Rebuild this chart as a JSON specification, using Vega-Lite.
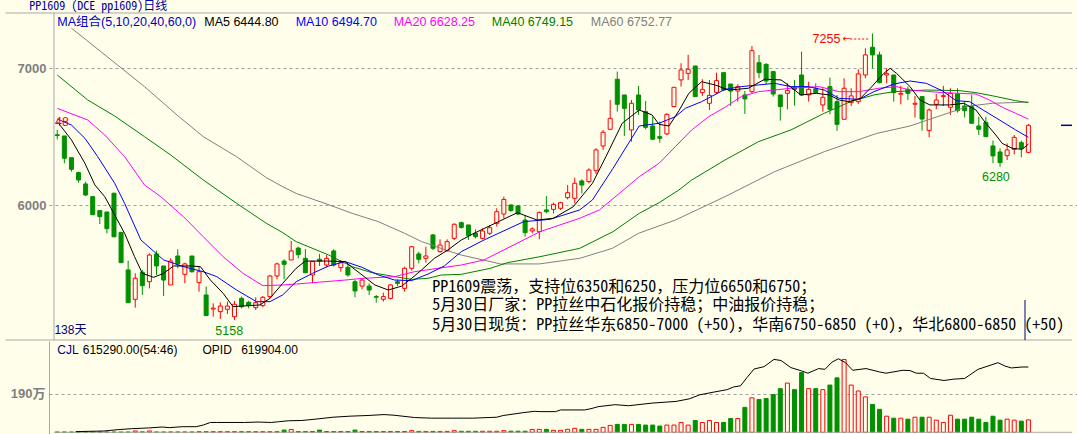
{
"$schema":"https://vega.github.io/schema/vega-lite/v6.json",
"background":"#fffeeb",
"padding":0,
"spacing":0,
"config":{"view":{"stroke":null},"font":"Liberation Sans"},
"datasets":{
"candles":[
{"k":0,"o":6514,"h":6549,"l":6480,"c":6508,"v":1},
{"k":1,"o":6505,"h":6505,"l":6305,"c":6342,"v":1},
{"k":2,"o":6346,"h":6346,"l":6244,"c":6261,"v":1},
{"k":3,"o":6237,"h":6244,"l":6164,"c":6183,"v":1},
{"k":4,"o":6154,"h":6171,"l":6066,"c":6073,"v":1},
{"k":5,"o":6061,"h":6066,"l":5929,"c":5929,"v":1},
{"k":6,"o":5959,"h":5959,"l":5861,"c":5915,"v":1},
{"k":7,"o":5949,"h":5949,"l":5793,"c":5827,"v":1},
{"k":8,"o":6086,"h":6090,"l":5763,"c":5768,"v":1},
{"k":9,"o":5800,"h":5800,"l":5578,"c":5578,"v":1},
{"k":10,"o":5525,"h":5593,"l":5286,"c":5286,"v":1},
{"k":11,"o":5310,"h":5500,"l":5249,"c":5464,"v":6.5},
{"k":12,"o":5508,"h":5525,"l":5342,"c":5410,"v":2},
{"k":13,"o":5439,"h":5646,"l":5390,"c":5634,"v":6.5},
{"k":14,"o":5642,"h":5666,"l":5488,"c":5554,"v":1.5},
{"k":15,"o":5554,"h":5554,"l":5334,"c":5451,"v":1.5},
{"k":16,"o":5415,"h":5610,"l":5415,"c":5590,"v":1.5},
{"k":17,"o":5627,"h":5676,"l":5537,"c":5569,"v":1.5},
{"k":18,"o":5493,"h":5578,"l":5427,"c":5569,"v":1.5},
{"k":19,"o":5627,"h":5627,"l":5505,"c":5512,"v":1.5},
{"k":20,"o":5432,"h":5549,"l":5366,"c":5512,"v":3},
{"k":21,"o":5342,"h":5403,"l":5191,"c":5191,"v":3},
{"k":22,"o":5239,"h":5281,"l":5183,"c":5246,"v":3},
{"k":23,"o":5220,"h":5288,"l":5166,"c":5261,"v":3},
{"k":24,"o":5237,"h":5293,"l":5203,"c":5261,"v":3},
{"k":25,"o":5183,"h":5298,"l":5158,"c":5274,"v":3},
{"k":26,"o":5317,"h":5330,"l":5244,"c":5256,"v":3},
{"k":27,"o":5288,"h":5300,"l":5244,"c":5264,"v":3},
{"k":28,"o":5249,"h":5325,"l":5232,"c":5286,"v":3},
{"k":29,"o":5264,"h":5334,"l":5252,"c":5325,"v":3},
{"k":30,"o":5330,"h":5488,"l":5317,"c":5481,"v":3},
{"k":31,"o":5481,"h":5578,"l":5456,"c":5569,"v":3},
{"k":32,"o":5590,"h":5603,"l":5456,"c":5566,"v":11},
{"k":33,"o":5598,"h":5737,"l":5598,"c":5664,"v":14},
{"k":34,"o":5685,"h":5695,"l":5610,"c":5637,"v":4},
{"k":35,"o":5610,"h":5678,"l":5500,"c":5505,"v":4},
{"k":36,"o":5488,"h":5586,"l":5427,"c":5586,"v":4},
{"k":37,"o":5603,"h":5642,"l":5554,"c":5590,"v":11},
{"k":38,"o":5561,"h":5634,"l":5544,"c":5610,"v":4},
{"k":39,"o":5664,"h":5676,"l":5549,"c":5561,"v":4},
{"k":40,"o":5542,"h":5598,"l":5512,"c":5578,"v":4},
{"k":41,"o":5544,"h":5561,"l":5476,"c":5488,"v":4},
{"k":42,"o":5439,"h":5451,"l":5325,"c":5371,"v":11},
{"k":43,"o":5407,"h":5464,"l":5383,"c":5451,"v":4},
{"k":44,"o":5407,"h":5427,"l":5342,"c":5378,"v":4},
{"k":45,"o":5330,"h":5342,"l":5286,"c":5325,"v":4},
{"k":46,"o":5310,"h":5359,"l":5293,"c":5330,"v":4},
{"k":47,"o":5317,"h":5422,"l":5310,"c":5415,"v":4},
{"k":48,"o":5439,"h":5456,"l":5407,"c":5427,"v":4},
{"k":49,"o":5390,"h":5549,"l":5366,"c":5537,"v":4},
{"k":50,"o":5537,"h":5700,"l":5520,"c":5695,"v":8},
{"k":51,"o":5642,"h":5659,"l":5573,"c":5603,"v":4.5},
{"k":52,"o":5610,"h":5695,"l":5578,"c":5627,"v":4.5},
{"k":53,"o":5781,"h":5788,"l":5671,"c":5683,"v":4.5},
{"k":54,"o":5659,"h":5749,"l":5651,"c":5707,"v":4.5},
{"k":55,"o":5666,"h":5749,"l":5659,"c":5732,"v":4.5},
{"k":56,"o":5756,"h":5866,"l":5744,"c":5859,"v":8},
{"k":57,"o":5871,"h":5878,"l":5827,"c":5836,"v":5},
{"k":58,"o":5854,"h":5854,"l":5744,"c":5776,"v":5},
{"k":59,"o":5793,"h":5822,"l":5756,"c":5768,"v":5},
{"k":60,"o":5756,"h":5829,"l":5749,"c":5810,"v":5},
{"k":61,"o":5793,"h":5854,"l":5780,"c":5834,"v":5},
{"k":62,"o":5866,"h":5976,"l":5842,"c":5951,"v":5},
{"k":63,"o":5934,"h":6061,"l":5903,"c":6041,"v":8},
{"k":64,"o":6000,"h":6005,"l":5951,"c":5959,"v":5.5},
{"k":65,"o":5993,"h":6000,"l":5927,"c":5934,"v":5.5},
{"k":66,"o":5890,"h":5927,"l":5768,"c":5798,"v":5.5},
{"k":67,"o":5810,"h":5837,"l":5793,"c":5825,"v":14},
{"k":68,"o":5805,"h":5951,"l":5749,"c":5946,"v":14.6},
{"k":69,"o":5964,"h":6066,"l":5939,"c":5951,"v":14.6},
{"k":70,"o":5968,"h":6017,"l":5939,"c":6005,"v":9.7},
{"k":71,"o":5976,"h":6024,"l":5964,"c":6017,"v":9.7},
{"k":72,"o":6054,"h":6146,"l":6041,"c":6090,"v":14.6},
{"k":73,"o":6049,"h":6200,"l":6012,"c":6159,"v":19.5},
{"k":74,"o":6176,"h":6188,"l":6085,"c":6146,"v":14.6},
{"k":75,"o":6171,"h":6268,"l":6159,"c":6256,"v":14.6},
{"k":76,"o":6251,"h":6415,"l":6227,"c":6403,"v":14.6},
{"k":77,"o":6432,"h":6549,"l":6403,"c":6532,"v":24.4},
{"k":78,"o":6554,"h":6768,"l":6549,"c":6634,"v":34.1},
{"k":79,"o":6920,"h":6976,"l":6683,"c":6737,"v":39},
{"k":80,"o":6805,"h":6805,"l":6505,"c":6707,"v":39},
{"k":81,"o":6549,"h":6768,"l":6463,"c":6744,"v":39},
{"k":82,"o":6805,"h":6871,"l":6659,"c":6695,"v":39},
{"k":83,"o":6683,"h":6761,"l":6554,"c":6568,"v":35.7},
{"k":84,"o":6578,"h":6646,"l":6476,"c":6481,"v":35.7},
{"k":85,"o":6500,"h":6610,"l":6456,"c":6488,"v":30.9},
{"k":86,"o":6520,"h":6671,"l":6512,"c":6663,"v":35.7},
{"k":87,"o":6720,"h":6861,"l":6715,"c":6861,"v":35.7},
{"k":88,"o":6915,"h":7037,"l":6866,"c":6988,"v":48.7},
{"k":89,"o":6963,"h":7098,"l":6915,"c":6993,"v":35.7},
{"k":90,"o":7017,"h":7017,"l":6793,"c":6793,"v":58.5},
{"k":91,"o":6822,"h":6920,"l":6798,"c":6846,"v":48.7},
{"k":92,"o":6744,"h":6915,"l":6695,"c":6802,"v":58.5},
{"k":93,"o":6824,"h":6968,"l":6812,"c":6910,"v":48.7},
{"k":94,"o":6968,"h":6968,"l":6834,"c":6841,"v":48.7},
{"k":95,"o":6885,"h":6885,"l":6724,"c":6834,"v":68.2},
{"k":96,"o":6834,"h":6883,"l":6756,"c":6866,"v":68.2},
{"k":97,"o":6805,"h":6834,"l":6666,"c":6776,"v":123.4},
{"k":98,"o":6829,"h":7163,"l":6817,"c":7129,"v":170.5},
{"k":99,"o":7041,"h":7098,"l":6927,"c":6968,"v":162.4},
{"k":100,"o":7029,"h":7037,"l":6885,"c":6907,"v":167.3},
{"k":101,"o":6976,"h":6976,"l":6793,"c":6812,"v":186.8},
{"k":102,"o":6805,"h":6805,"l":6617,"c":6720,"v":216},
{"k":103,"o":6817,"h":6890,"l":6700,"c":6837,"v":243.6},
{"k":104,"o":6859,"h":6915,"l":6727,"c":6846,"v":211.1},
{"k":105,"o":6951,"h":7122,"l":6798,"c":6805,"v":295.6},
{"k":106,"o":6805,"h":6902,"l":6756,"c":6846,"v":216},
{"k":107,"o":6849,"h":6890,"l":6812,"c":6822,"v":216},
{"k":108,"o":6732,"h":6854,"l":6683,"c":6788,"v":211.1},
{"k":109,"o":6866,"h":6932,"l":6663,"c":6700,"v":233.9},
{"k":110,"o":6756,"h":6805,"l":6542,"c":6590,"v":269.6},
{"k":111,"o":6627,"h":6927,"l":6627,"c":6854,"v":360.5},
{"k":112,"o":6749,"h":6854,"l":6724,"c":6798,"v":233.9},
{"k":113,"o":6756,"h":6993,"l":6739,"c":6959,"v":204.6},
{"k":114,"o":6951,"h":7146,"l":6927,"c":7098,"v":175.4},
{"k":115,"o":7154,"h":7255,"l":7000,"c":7098,"v":138},
{"k":116,"o":7098,"h":7122,"l":6890,"c":6895,"v":113.7},
{"k":117,"o":6951,"h":7000,"l":6890,"c":6961,"v":79.6},
{"k":118,"o":6951,"h":6951,"l":6756,"c":6822,"v":69.8},
{"k":119,"o":6810,"h":6871,"l":6737,"c":6817,"v":69.8},
{"k":120,"o":6846,"h":6866,"l":6768,"c":6817,"v":65},
{"k":121,"o":6737,"h":6798,"l":6639,"c":6744,"v":74.7},
{"k":122,"o":6793,"h":6793,"l":6544,"c":6629,"v":74.7},
{"k":123,"o":6544,"h":6707,"l":6495,"c":6695,"v":74.7},
{"k":124,"o":6737,"h":6812,"l":6700,"c":6768,"v":60.1},
{"k":125,"o":6793,"h":6871,"l":6724,"c":6800,"v":48.7},
{"k":126,"o":6715,"h":6854,"l":6659,"c":6817,"v":84.4},
{"k":127,"o":6812,"h":6854,"l":6676,"c":6690,"v":65},
{"k":128,"o":6724,"h":6756,"l":6641,"c":6690,"v":65},
{"k":129,"o":6720,"h":6805,"l":6598,"c":6598,"v":74.7},
{"k":130,"o":6578,"h":6646,"l":6512,"c":6554,"v":65},
{"k":131,"o":6605,"h":6646,"l":6500,"c":6500,"v":48.7},
{"k":132,"o":6432,"h":6471,"l":6305,"c":6359,"v":79.6},
{"k":133,"o":6388,"h":6415,"l":6280,"c":6310,"v":60.1},
{"k":134,"o":6361,"h":6451,"l":6329,"c":6403,"v":65},
{"k":135,"o":6407,"h":6512,"l":6371,"c":6495,"v":60.1},
{"k":136,"o":6456,"h":6471,"l":6349,"c":6415,"v":55.2},
{"k":137,"o":6385,"h":6593,"l":6378,"c":6583,"v":61.5}
],
"ma":[
{"s":"MA60","k":2,"v":7293},{"s":"MA60","k":4.1,"v":7207},{"s":"MA60","k":8.5,"v":7024},{"s":"MA60","k":12.3,"v":6866},{"s":"MA60","k":16.9,"v":6658},{"s":"MA60","k":20.6,"v":6500},{"s":"MA60","k":25.3,"v":6353},{"s":"MA60","k":29.5,"v":6200},{"s":"MA60","k":31.8,"v":6134},{"s":"MA60","k":33.7,"v":6085},{"s":"MA60","k":38.4,"v":6000},{"s":"MA60","k":41.6,"v":5939},{"s":"MA60","k":45.3,"v":5878},{"s":"MA60","k":49,"v":5793},{"s":"MA60","k":51.4,"v":5732},{"s":"MA60","k":52.8,"v":5708},{"s":"MA60","k":55.1,"v":5665},{"s":"MA60","k":57,"v":5634},{"s":"MA60","k":62.5,"v":5569},{"s":"MA60","k":68,"v":5569},{"s":"MA60","k":73.7,"v":5610},{"s":"MA60","k":78.3,"v":5683},{"s":"MA60","k":82,"v":5793},{"s":"MA60","k":87.2,"v":5890},{"s":"MA60","k":94.2,"v":6061},{"s":"MA60","k":101.2,"v":6244},{"s":"MA60","k":108.2,"v":6390},{"s":"MA60","k":115.6,"v":6524},{"s":"MA60","k":120.3,"v":6578},{"s":"MA60","k":124.9,"v":6659},{"s":"MA60","k":128.7,"v":6724},{"s":"MA60","k":131.9,"v":6744},{"s":"MA60","k":137,"v":6753},
{"s":"MA40","k":0,"v":6951},{"s":"MA40","k":4.3,"v":6768},{"s":"MA40","k":8.1,"v":6651},{"s":"MA40","k":12.3,"v":6500},{"s":"MA40","k":16,"v":6366},{"s":"MA40","k":20.6,"v":6183},{"s":"MA40","k":25.3,"v":6012},{"s":"MA40","k":29.5,"v":5866},{"s":"MA40","k":31.8,"v":5798},{"s":"MA40","k":33.7,"v":5732},{"s":"MA40","k":38.3,"v":5634},{"s":"MA40","k":41.6,"v":5549},{"s":"MA40","k":44.4,"v":5505},{"s":"MA40","k":47.6,"v":5476},{"s":"MA40","k":50,"v":5456},{"s":"MA40","k":52.3,"v":5464},{"s":"MA40","k":54.2,"v":5488},{"s":"MA40","k":57,"v":5493},{"s":"MA40","k":61.1,"v":5537},{"s":"MA40","k":63.5,"v":5578},{"s":"MA40","k":68.1,"v":5622},{"s":"MA40","k":73.7,"v":5683},{"s":"MA40","k":78.4,"v":5805},{"s":"MA40","k":82.1,"v":5939},{"s":"MA40","k":84.9,"v":6017},{"s":"MA40","k":87.7,"v":6110},{"s":"MA40","k":89.5,"v":6183},{"s":"MA40","k":94.2,"v":6329},{"s":"MA40","k":98.9,"v":6463},{"s":"MA40","k":103.5,"v":6549},{"s":"MA40","k":108.2,"v":6671},{"s":"MA40","k":111.9,"v":6756},{"s":"MA40","k":115.2,"v":6805},{"s":"MA40","k":118,"v":6829},{"s":"MA40","k":122.6,"v":6841},{"s":"MA40","k":127.2,"v":6837},{"s":"MA40","k":129.6,"v":6822},{"s":"MA40","k":132,"v":6798},{"s":"MA40","k":135.2,"v":6763},{"s":"MA40","k":137,"v":6749},
{"s":"MA20","k":0,"v":6707},{"s":"MA20","k":4.3,"v":6622},{"s":"MA20","k":6.7,"v":6512},{"s":"MA20","k":9.5,"v":6354},{"s":"MA20","k":12.3,"v":6147},{"s":"MA20","k":14.6,"v":6061},{"s":"MA20","k":17.8,"v":5915},{"s":"MA20","k":20.6,"v":5768},{"s":"MA20","k":23.4,"v":5622},{"s":"MA20","k":26.2,"v":5500},{"s":"MA20","k":29,"v":5410},{"s":"MA20","k":31.8,"v":5415},{"s":"MA20","k":33.7,"v":5422},{"s":"MA20","k":40.6,"v":5451},{"s":"MA20","k":43,"v":5463},{"s":"MA20","k":47.6,"v":5476},{"s":"MA20","k":50.4,"v":5512},{"s":"MA20","k":53.7,"v":5537},{"s":"MA20","k":57,"v":5561},{"s":"MA20","k":60.2,"v":5598},{"s":"MA20","k":68.1,"v":5805},{"s":"MA20","k":73.7,"v":5903},{"s":"MA20","k":76.5,"v":5964},{"s":"MA20","k":82.1,"v":6207},{"s":"MA20","k":84.9,"v":6305},{"s":"MA20","k":87.2,"v":6427},{"s":"MA20","k":89.5,"v":6549},{"s":"MA20","k":91.9,"v":6646},{"s":"MA20","k":94.2,"v":6715},{"s":"MA20","k":96.5,"v":6793},{"s":"MA20","k":98.9,"v":6829},{"s":"MA20","k":103.5,"v":6854},{"s":"MA20","k":107.5,"v":6866},{"s":"MA20","k":110.3,"v":6829},{"s":"MA20","k":113.1,"v":6829},{"s":"MA20","k":115.9,"v":6854},{"s":"MA20","k":118.4,"v":6866},{"s":"MA20","k":120.3,"v":6841},{"s":"MA20","k":124.9,"v":6822},{"s":"MA20","k":129.6,"v":6812},{"s":"MA20","k":131.5,"v":6768},{"s":"MA20","k":133.3,"v":6715},{"s":"MA20","k":135.2,"v":6671},{"s":"MA20","k":137,"v":6628},
{"s":"MA10","k":0,"v":6629},{"s":"MA10","k":2,"v":6585},{"s":"MA10","k":3.9,"v":6488},{"s":"MA10","k":5.7,"v":6354},{"s":"MA10","k":8.1,"v":6159},{"s":"MA10","k":9.5,"v":6012},{"s":"MA10","k":11.8,"v":5744},{"s":"MA10","k":15,"v":5598},{"s":"MA10","k":17.8,"v":5549},{"s":"MA10","k":20.6,"v":5512},{"s":"MA10","k":22.5,"v":5476},{"s":"MA10","k":25.3,"v":5378},{"s":"MA10","k":28.1,"v":5293},{"s":"MA10","k":30,"v":5293},{"s":"MA10","k":31.8,"v":5342},{"s":"MA10","k":33.7,"v":5439},{"s":"MA10","k":36,"v":5500},{"s":"MA10","k":38.3,"v":5554},{"s":"MA10","k":40.6,"v":5586},{"s":"MA10","k":43,"v":5544},{"s":"MA10","k":45.3,"v":5488},{"s":"MA10","k":47.6,"v":5451},{"s":"MA10","k":50,"v":5447},{"s":"MA10","k":52.3,"v":5495},{"s":"MA10","k":54.6,"v":5554},{"s":"MA10","k":57,"v":5659},{"s":"MA10","k":60.2,"v":5744},{"s":"MA10","k":65.8,"v":5878},{"s":"MA10","k":69.5,"v":5895},{"s":"MA10","k":73.7,"v":5964},{"s":"MA10","k":75.5,"v":6037},{"s":"MA10","k":78.4,"v":6268},{"s":"MA10","k":82.1,"v":6578},{"s":"MA10","k":84.9,"v":6598},{"s":"MA10","k":87.2,"v":6646},{"s":"MA10","k":88.6,"v":6707},{"s":"MA10","k":90.9,"v":6756},{"s":"MA10","k":94.2,"v":6846},{"s":"MA10","k":96.5,"v":6866},{"s":"MA10","k":98.9,"v":6878},{"s":"MA10","k":101.2,"v":6890},{"s":"MA10","k":103.5,"v":6866},{"s":"MA10","k":105.9,"v":6866},{"s":"MA10","k":108.2,"v":6841},{"s":"MA10","k":110.3,"v":6780},{"s":"MA10","k":113.1,"v":6773},{"s":"MA10","k":115.2,"v":6829},{"s":"MA10","k":118,"v":6885},{"s":"MA10","k":120.3,"v":6907},{"s":"MA10","k":122.6,"v":6890},{"s":"MA10","k":124.9,"v":6834},{"s":"MA10","k":126.8,"v":6763},{"s":"MA10","k":128.7,"v":6756},{"s":"MA10","k":130.6,"v":6695},{"s":"MA10","k":133.3,"v":6610},{"s":"MA10","k":135.2,"v":6549},{"s":"MA10","k":137,"v":6495},
{"s":"MA5","k":0,"v":6610},{"s":"MA5","k":2,"v":6476},{"s":"MA5","k":3.9,"v":6305},{"s":"MA5","k":5.3,"v":6147},{"s":"MA5","k":6.7,"v":6061},{"s":"MA5","k":8.1,"v":5927},{"s":"MA5","k":9.5,"v":5793},{"s":"MA5","k":10.9,"v":5622},{"s":"MA5","k":12,"v":5500},{"s":"MA5","k":13.6,"v":5471},{"s":"MA5","k":15,"v":5500},{"s":"MA5","k":16.4,"v":5554},{"s":"MA5","k":18.8,"v":5554},{"s":"MA5","k":20.2,"v":5549},{"s":"MA5","k":21.6,"v":5451},{"s":"MA5","k":23.4,"v":5354},{"s":"MA5","k":24.8,"v":5256},{"s":"MA5","k":26.2,"v":5261},{"s":"MA5","k":28.6,"v":5269},{"s":"MA5","k":30,"v":5317},{"s":"MA5","k":31.8,"v":5427},{"s":"MA5","k":33.7,"v":5537},{"s":"MA5","k":35,"v":5590},{"s":"MA5","k":38.3,"v":5590},{"s":"MA5","k":40.6,"v":5586},{"s":"MA5","k":41.6,"v":5544},{"s":"MA5","k":43,"v":5488},{"s":"MA5","k":44.8,"v":5415},{"s":"MA5","k":46.7,"v":5378},{"s":"MA5","k":48.6,"v":5407},{"s":"MA5","k":50,"v":5464},{"s":"MA5","k":51.4,"v":5525},{"s":"MA5","k":53.2,"v":5610},{"s":"MA5","k":55.1,"v":5671},{"s":"MA5","k":57,"v":5744},{"s":"MA5","k":58.8,"v":5793},{"s":"MA5","k":64.9,"v":5944},{"s":"MA5","k":67.7,"v":5890},{"s":"MA5","k":70,"v":5903},{"s":"MA5","k":72.8,"v":5988},{"s":"MA5","k":75.5,"v":6159},{"s":"MA5","k":77.4,"v":6354},{"s":"MA5","k":79.7,"v":6598},{"s":"MA5","k":82.1,"v":6695},{"s":"MA5","k":83.9,"v":6659},{"s":"MA5","k":84.9,"v":6590},{"s":"MA5","k":86.3,"v":6578},{"s":"MA5","k":87.7,"v":6690},{"s":"MA5","k":89.1,"v":6817},{"s":"MA5","k":90.9,"v":6902},{"s":"MA5","k":92.8,"v":6878},{"s":"MA5","k":94.7,"v":6841},{"s":"MA5","k":97.5,"v":6854},{"s":"MA5","k":99.8,"v":6920},{"s":"MA5","k":102.1,"v":6915},{"s":"MA5","k":103.1,"v":6878},{"s":"MA5","k":104.9,"v":6805},{"s":"MA5","k":107.1,"v":6817},{"s":"MA5","k":108.9,"v":6805},{"s":"MA5","k":110.3,"v":6768},{"s":"MA5","k":111.7,"v":6756},{"s":"MA5","k":113.3,"v":6780},{"s":"MA5","k":114.7,"v":6854},{"s":"MA5","k":116.6,"v":6963},{"s":"MA5","k":117.5,"v":7000},{"s":"MA5","k":118.4,"v":6963},{"s":"MA5","k":120.3,"v":6866},{"s":"MA5","k":121.7,"v":6768},{"s":"MA5","k":123.1,"v":6732},{"s":"MA5","k":125.9,"v":6732},{"s":"MA5","k":127.9,"v":6744},{"s":"MA5","k":129.6,"v":6695},{"s":"MA5","k":131,"v":6598},{"s":"MA5","k":132.4,"v":6512},{"s":"MA5","k":133.3,"v":6451},{"s":"MA5","k":134.7,"v":6415},{"s":"MA5","k":136.1,"v":6407},{"s":"MA5","k":137,"v":6445}
],
"oi":[
{"k":2.6,"oi":0.6},{"k":6.6,"oi":1.2},{"k":8.6,"oi":2.5},{"k":10.5,"oi":3.4},{"k":12.9,"oi":4.1},{"k":14.8,"oi":5},{"k":15.8,"oi":4.4},{"k":17.7,"oi":5.3},{"k":19.6,"oi":5.3},{"k":20.6,"oi":6.9},{"k":21.6,"oi":9.3},{"k":22.5,"oi":9.3},{"k":26.4,"oi":9.3},{"k":28.3,"oi":9.7},{"k":30.2,"oi":9.3},{"k":31.2,"oi":10},{"k":32.6,"oi":10.9},{"k":34.5,"oi":11.2},{"k":36.5,"oi":12.5},{"k":38.9,"oi":14.3},{"k":41.3,"oi":15.3},{"k":43.7,"oi":15.9},{"k":46.1,"oi":16.8},{"k":47.5,"oi":16.2},{"k":50.4,"oi":14},{"k":52.8,"oi":13.4},{"k":58.6,"oi":13.4},{"k":62,"oi":14.3},{"k":62.9,"oi":15.9},{"k":65.8,"oi":18.7},{"k":67.3,"oi":19.9},{"k":68.1,"oi":19.6},{"k":70.3,"oi":19.6},{"k":71,"oi":21.2},{"k":74.4,"oi":21.2},{"k":75.3,"oi":22.4},{"k":76.3,"oi":24.3},{"k":78.7,"oi":26.2},{"k":80.6,"oi":25.2},{"k":83.9,"oi":27.7},{"k":87.3,"oi":29.3},{"k":89.2,"oi":31.8},{"k":90.6,"oi":35.5},{"k":92.5,"oi":38},{"k":94.5,"oi":40.5},{"k":95.4,"oi":43},{"k":96.4,"oi":44.2},{"k":97.3,"oi":52},{"k":98.3,"oi":60.1},{"k":99.7,"oi":62.3},{"k":101.1,"oi":69.2},{"k":102.1,"oi":68.2},{"k":103.5,"oi":61.4},{"k":105,"oi":58.3},{"k":105.9,"oi":56.1},{"k":107.4,"oi":60.5},{"k":108.3,"oi":59.8},{"k":109.3,"oi":66.7},{"k":110.2,"oi":69.8},{"k":111.2,"oi":66.1},{"k":112.2,"oi":58.9},{"k":114.1,"oi":60.5},{"k":116,"oi":57.3},{"k":116.9,"oi":56.1},{"k":119.3,"oi":58.9},{"k":120.3,"oi":58.6},{"k":121.2,"oi":56.1},{"k":122.2,"oi":56.1},{"k":123.2,"oi":51.1},{"k":125.1,"oi":49.2},{"k":126.5,"oi":50.5},{"k":128,"oi":51.1},{"k":129.9,"oi":59.8},{"k":131.3,"oi":62.9},{"k":132.7,"oi":66.1},{"k":133.7,"oi":62.9},{"k":134.6,"oi":61.1},{"k":136.1,"oi":62},{"k":137,"oi":62}
],
"notes":[
{"g":"legend","s":"MA组合","k":0,"p":7338.7,"t":"MA组合(5,10,20,40,60,0)"},
{"g":"legend","s":"MA5","k":20.73,"p":7338.7,"t":"MA5 6444.80"},
{"g":"legend","s":"MA10","k":33.63,"p":7338.7,"t":"MA10 6494.70"},
{"g":"legend","s":"MA20","k":47.46,"p":7338.7,"t":"MA20 6628.25"},
{"g":"legend","s":"MA40","k":61.29,"p":7338.7,"t":"MA40 6749.15"},
{"g":"legend","s":"MA60","k":75.26,"p":7338.7,"t":"MA60 6752.77"},
{"g":"title","k":-3.95,"p":7453.5,"t":"PP1609  (DCE pp1609)日线"},
{"g":"red","k":-0.32,"p":6610.8,"t":"48"},
{"g":"red","k":106.55,"p":7214.3,"t":"7255"},
{"g":"green","k":130.45,"p":6204.9,"t":"6280"},
{"g":"green","k":22.3,"p":5074.7,"t":"5158"},
{"g":"navy","k":-0.4,"p":5089.3,"t":"138天"},
{"g":"block","k":52.9,"p":5396.6,"t":"PP1609震荡，支持位6350和6250，压力位6650和6750；"},
{"g":"block","k":52.9,"p":5268.5,"t":"5月30日厂家：PP拉丝中石化报价持稳；中油报价持稳；"},
{"g":"block","k":52.9,"p":5122.2,"t":"5月30日现货：PP拉丝华东6850-7000 (+50)，华南6750-6850 (+0)，华北6800-6850 (+50)"},
{"g":"arrow","k":111.37,"p":7214.3,"t":"←"}
],
"bnotes":[
{"k":0,"p":407.4,"t":"CJL"},
{"k":3.59,"p":407.4,"t":"615290.00(54:46)"},
{"k":20.49,"p":407.4,"t":"OPID"},
{"k":25.94,"p":407.4,"t":"619904.00"}
]
},
"resolve":{"scale":{"x":"independent","y":"independent"}},
"vconcat":[
{
"width":1028,"height":340,
"encoding":{"x":{"field":"k","type":"quantitative","scale":{"domain":[-0.461,143.15],"nice":false,"zero":false},"axis":null}},
"layer":[
{"data":{"values":[{"k":-7.307,"k2":143.15,"p":7404.5},{"k":-7.307,"k2":143.15,"p":5012.5}]},
 "mark":{"type":"rule","color":"#a8a8a8","strokeWidth":1},
 "encoding":{"x2":{"field":"k2"},"y":{"field":"p","type":"quantitative","scale":{"domain":[5012.5,7499.6],"nice":false,"zero":false},
 "axis":{"values":[6000,7000],"format":"d","grid":true,"gridDash":[3,3],"gridColor":"#a0a0a0","domain":false,"ticks":false,"labelFont":"Liberation Sans","labelFontWeight":"bold","labelColor":"#808080","labelFontSize":13,"labelPadding":3,"minExtent":49,"maxExtent":49,"title":null}}}},
{"data":{"values":[{"k":-0.461,"p":7404.5,"p2":5012.5}]},
 "mark":{"type":"rule","color":"#a8a8a8","strokeWidth":1},
 "encoding":{"y":{"field":"p","type":"quantitative","scale":{"domain":[5012.5,7499.6],"nice":false,"zero":false}},"y2":{"field":"p2"}}},
{"data":{"values":[{"k":136.52,"p":5305.5,"p2":5012.5}]},
 "mark":{"type":"rule","color":"#000080","strokeWidth":1},
 "encoding":{"y":{"field":"p","type":"quantitative","scale":{"domain":[5012.5,7499.6],"nice":false,"zero":false}},"y2":{"field":"p2"}}},
{"data":{"name":"candles"},
 "mark":{"type":"rule","strokeWidth":1},
 "encoding":{"y":{"field":"l","type":"quantitative","scale":{"domain":[5012.5,7499.6],"nice":false,"zero":false}},"y2":{"field":"h"},
 "color":{"condition":{"test":"datum.c > datum.o","value":"#ff0000"},"value":"#009000"}}},
{"data":{"name":"candles"},
 "mark":{"type":"bar","width":4,"strokeWidth":1},
 "encoding":{"y":{"field":"o","type":"quantitative","scale":{"domain":[5012.5,7499.6],"nice":false,"zero":false}},"y2":{"field":"c"},
 "fill":{"condition":{"test":"datum.c > datum.o","value":"#fffeeb"},"value":"#009000"},
 "stroke":{"condition":{"test":"datum.c > datum.o","value":"#ff0000"},"value":"#009000"}}},
{"data":{"name":"ma"},
 "mark":{"type":"line","strokeWidth":1},
 "encoding":{"y":{"field":"v","type":"quantitative","scale":{"domain":[5012.5,7499.6],"nice":false,"zero":false}},
 "color":{"field":"s","type":"nominal","scale":{"domain":["MA组合","MA5","MA10","MA20","MA40","MA60"],"range":["#0000c8","#000000","#0000ff","#ff00ff","#008000","#808080"]},"legend":null},
 "order":{"field":"k","type":"quantitative"}}},
{"data":{"name":"notes"},"transform":[{"filter":"datum.g == 'legend'"}],
 "mark":{"type":"text","align":"left","baseline":"middle","fontSize":12.5,"font":"Liberation Sans, Noto Sans CJK SC"},
 "encoding":{"y":{"field":"p","type":"quantitative","scale":{"domain":[5012.5,7499.6],"nice":false,"zero":false}},"text":{"field":"t"},
 "color":{"field":"s","type":"nominal","scale":{"domain":["MA组合","MA5","MA10","MA20","MA40","MA60"],"range":["#0000c8","#000000","#0000ff","#ff00ff","#008000","#808080"]},"legend":null}}},
{"data":{"name":"notes"},"transform":[{"filter":"datum.g == 'title'"}],
 "mark":{"type":"text","align":"left","baseline":"middle","fontSize":12,"font":"Noto Sans Mono CJK SC, DejaVu Sans Mono, Noto Sans CJK SC","color":"#0000a0"},
 "encoding":{"y":{"field":"p","type":"quantitative","scale":{"domain":[5012.5,7499.6],"nice":false,"zero":false}},"text":{"field":"t"}}},
{"data":{"name":"notes"},"transform":[{"filter":"datum.g == 'red'"}],
 "mark":{"type":"text","align":"left","baseline":"middle","fontSize":12.5,"font":"Liberation Sans","color":"#ff0000"},
 "encoding":{"y":{"field":"p","type":"quantitative","scale":{"domain":[5012.5,7499.6],"nice":false,"zero":false}},"text":{"field":"t"}}},
{"data":{"name":"notes"},"transform":[{"filter":"datum.g == 'green'"}],
 "mark":{"type":"text","align":"left","baseline":"middle","fontSize":12.5,"font":"Liberation Sans","color":"#009000"},
 "encoding":{"y":{"field":"p","type":"quantitative","scale":{"domain":[5012.5,7499.6],"nice":false,"zero":false}},"text":{"field":"t"}}},
{"data":{"name":"notes"},"transform":[{"filter":"datum.g == 'navy'"}],
 "mark":{"type":"text","align":"left","baseline":"middle","fontSize":12,"font":"Liberation Sans, Noto Sans CJK SC","color":"#000080"},
 "encoding":{"y":{"field":"p","type":"quantitative","scale":{"domain":[5012.5,7499.6],"nice":false,"zero":false}},"text":{"field":"t"}}},
{"data":{"name":"notes"},"transform":[{"filter":"datum.g == 'block'"}],
 "mark":{"type":"text","align":"left","baseline":"middle","fontSize":16,"font":"Noto Sans Mono CJK SC, Noto Sans CJK SC","color":"#000000"},
 "encoding":{"y":{"field":"p","type":"quantitative","scale":{"domain":[5012.5,7499.6],"nice":false,"zero":false}},"text":{"field":"t"}}},
{"data":{"name":"notes"},"transform":[{"filter":"datum.g == 'arrow'"}],
 "mark":{"type":"text","align":"center","baseline":"middle","fontSize":10,"font":"DejaVu Sans","color":"#ff0000"},
 "encoding":{"y":{"field":"p","type":"quantitative","scale":{"domain":[5012.5,7499.6],"nice":false,"zero":false}},"text":{"field":"t"}}},
{"data":{"values":[{"k":111.86,"k2":114.65,"p":7214.3}]},
 "mark":{"type":"rule","color":"#ff0000","strokeWidth":1,"strokeDash":[2,2]},
 "encoding":{"x2":{"field":"k2"},"y":{"field":"p","type":"quantitative","scale":{"domain":[5012.5,7499.6],"nice":false,"zero":false}}}},
{"data":{"values":[{"k":141.6,"k2":143.15,"p":6583}]},
 "mark":{"type":"rule","color":"#000080","strokeWidth":1.5},
 "encoding":{"x2":{"field":"k2"},"y":{"field":"p","type":"quantitative","scale":{"domain":[5012.5,7499.6],"nice":false,"zero":false}}}}
]
},
{
"width":1028,"height":94,
"encoding":{"x":{"field":"k","type":"quantitative","scale":{"domain":[-0.461,143.15],"nice":false,"zero":false},"axis":null}},
"resolve":{"scale":{"y":"independent"}},
"layer":[
{"data":{"name":"candles"},
 "mark":{"type":"bar","width":4,"strokeWidth":1},
 "encoding":{"y":{"field":"v","type":"quantitative","scale":{"domain":[-13.4,452],"nice":false,"zero":false},
 "axis":{"values":[190],"labelExpr":"datum.value + '万'","grid":true,"gridDash":[3,3],"gridColor":"#a0a0a0","domain":true,"domainColor":"#a8a8a8","ticks":false,"labelFont":"Liberation Sans, Noto Sans CJK SC","labelFontWeight":"bold","labelColor":"#808080","labelFontSize":13,"labelPadding":4,"minExtent":49,"maxExtent":49,"title":null}},
 "y2":{"datum":0},
 "fill":{"condition":{"test":"datum.c > datum.o","value":"#fffeeb"},"value":"#009000"},
 "stroke":{"condition":{"test":"datum.c > datum.o","value":"#ff0000"},"value":"#009000"}}},
{"data":{"values":[{"k":-0.461,"k2":143.15,"v":0}]},
 "mark":{"type":"rule","color":"#a8a8a8","strokeWidth":1},
 "encoding":{"x2":{"field":"k2"},"y":{"field":"v","type":"quantitative","scale":{"domain":[-13.4,452],"nice":false,"zero":false},"axis":null}}},
{"data":{"name":"oi"},
 "mark":{"type":"line","color":"#000000","strokeWidth":1},
 "encoding":{"y":{"field":"oi","type":"quantitative","scale":{"domain":[-2.6,86.7],"nice":false,"zero":false},"axis":null}}},
{"data":{"name":"bnotes"},
 "mark":{"type":"text","align":"left","baseline":"middle","fontSize":12,"font":"Liberation Sans"},
 "encoding":{"y":{"field":"p","type":"quantitative","scale":{"domain":[-13.4,452],"nice":false,"zero":false},"axis":null},"text":{"field":"t"},
 "color":{"condition":{"test":"datum.t == 'CJL'","value":"#000080"},"value":"#000000"}}}
]
}
]
}
